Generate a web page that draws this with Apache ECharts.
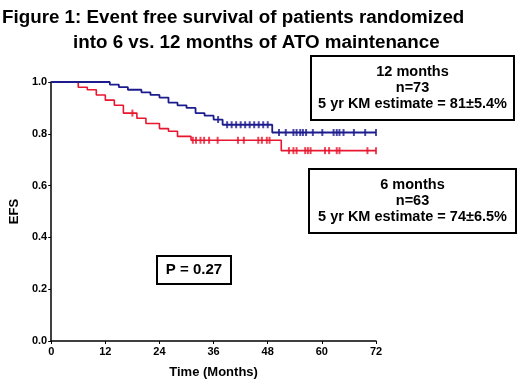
<!DOCTYPE html>
<html>
<head>
<meta charset="utf-8">
<script src="https://cdn.jsdelivr.net/npm/echarts@6/dist/echarts.min.js"></script>
<style>
  html, body { margin: 0; padding: 0; background: #fff; }
  #chart { width: 520px; height: 384px; }
</style>
</head>
<body>
<div id="chart"></div>
<script>
// KM steps: time (months) where survival changes, and survival after the step
const blueTimes = [0, 13, 15, 17, 20, 22, 24, 26, 28, 30, 32, 34, 36, 38, 49];
const blueSurv = [1.0, 0.99, 0.98, 0.97, 0.96, 0.95, 0.94, 0.92, 0.91, 0.9, 0.88, 0.87, 0.855, 0.835, 0.805];
const redTimes = [0, 6, 8, 10, 12, 14, 16, 19, 21, 24, 26, 28, 31, 51];
const redSurv = [1.0, 0.98, 0.97, 0.95, 0.93, 0.91, 0.88, 0.86, 0.84, 0.82, 0.81, 0.79, 0.775, 0.735];
const endTime = 72;

// censored observations (months)
const blueCensor = [37, 39, 40, 41, 42, 43, 44, 45, 46, 47, 48, 50.5, 52, 53.7, 54.4, 55.2, 55.8, 56.5, 58, 60.1, 62.6, 63.3, 63.9, 64.8, 67.1, 69.6, 72];
const redCensor = [18, 31.4, 32.1, 33.1, 33.9, 35, 36.9, 41.4, 42.7, 45.9, 46.7, 47.8, 48.4, 52.7, 53.7, 54.4, 56.3, 56.9, 57.5, 60.7, 61.6, 63.3, 63.9, 70.1, 72];

const xTicks = [0, 12, 24, 36, 48, 60, 72];
const yTicks = [0, 0.2, 0.4, 0.6, 0.8, 1.0];

const BLUE = '#1c1c8f';
const RED = '#e8162e';
const FONT = 'Liberation Sans, Arial, sans-serif';

function stepData(times, surv) {
  const pts = times.map((t, i) => [t, surv[i]]);
  pts.push([endTime, surv[surv.length - 1]]);
  return pts;
}

function survAt(times, surv, t) {
  let s = surv[0];
  times.forEach((tt, i) => {
    if (tt <= t) s = surv[i];
  });
  return s;
}

function censorData(censor, times, surv) {
  return censor.map((t) => [t, survAt(times, surv, t)]);
}

// text box drawn as graphic group
function infoBox(left, top, width, height, lines, fontSize, lineHeight) {
  return {
    type: 'group',
    left: left,
    top: top,
    children: [
      {
        type: 'rect',
        shape: { x: 0, y: 0, width: width, height: height },
        style: { fill: '#fff', stroke: '#000', lineWidth: 2 },
      },
      {
        type: 'text',
        x: width / 2,
        y: height / 2,
        style: {
          text: lines.join('\n'),
          fill: '#000',
          font: 'bold ' + fontSize + 'px ' + FONT,
          lineHeight: lineHeight,
          align: 'center',
          verticalAlign: 'middle',
        },
      },
    ],
  };
}

const chart = echarts.init(document.getElementById('chart'), null, { renderer: 'canvas' });

chart.setOption({
  backgroundColor: '#fff',
  animation: false,
  grid: { left: 37, right: 144, top: 82, bottom: 37, containLabel: false },
  xAxis: {
    type: 'value',
    min: xTicks[0],
    max: xTicks[xTicks.length - 1],
    interval: 12,
    name: 'Time (Months)',
    nameLocation: 'middle',
    nameGap: 25,
    nameTextStyle: { color: '#000', fontFamily: FONT, fontWeight: 'bold', fontSize: 13 },
    axisLine: { show: true, lineStyle: { color: '#000', width: 1.5 } },
    axisTick: { show: true, length: 3, lineStyle: { color: '#000' } },
    axisLabel: { color: '#000', fontFamily: FONT, fontWeight: 'bold', fontSize: 11, margin: 5 },
    splitLine: { show: false },
  },
  yAxis: {
    type: 'value',
    min: yTicks[0],
    max: yTicks[yTicks.length - 1],
    interval: 0.2,
    name: 'EFS',
    nameLocation: 'middle',
    nameGap: 24,
    nameRotate: 90,
    nameTextStyle: { color: '#000', fontFamily: FONT, fontWeight: 'bold', fontSize: 13 },
    axisLine: { show: true, lineStyle: { color: '#000', width: 1.5 } },
    axisTick: { show: true, length: 3, lineStyle: { color: '#000' } },
    axisLabel: {
      color: '#000',
      fontFamily: FONT,
      fontWeight: 'bold',
      fontSize: 11,
      margin: 4,
      formatter: (v) => v.toFixed(1),
    },
    splitLine: { show: false },
  },
  series: [
    {
      name: '6 months',
      type: 'line',
      step: 'end',
      data: stepData(redTimes, redSurv),
      showSymbol: false,
      lineStyle: { color: RED, width: 1.6 },
      z: 2,
    },
    {
      name: '12 months',
      type: 'line',
      step: 'end',
      data: stepData(blueTimes, blueSurv),
      showSymbol: false,
      lineStyle: { color: BLUE, width: 1.8 },
      z: 3,
    },
    {
      type: 'scatter',
      data: censorData(redCensor, redTimes, redSurv),
      symbol: 'rect',
      symbolSize: [2, 7],
      itemStyle: { color: RED },
      z: 4,
    },
    {
      type: 'scatter',
      data: censorData(blueCensor, blueTimes, blueSurv),
      symbol: 'rect',
      symbolSize: [2, 7],
      itemStyle: { color: BLUE },
      z: 5,
    },
  ],
  graphic: [
    {
      type: 'text',
      left: 2,
      top: 8,
      style: {
        text: 'Figure 1: Event free survival of patients randomized',
        fill: '#000',
        font: 'bold 18.8px ' + FONT,
      },
    },
    {
      type: 'text',
      left: 73,
      top: 33,
      style: {
        text: 'into 6 vs. 12 months of ATO maintenance',
        fill: '#000',
        font: 'bold 18.8px ' + FONT,
      },
    },
    infoBox(310, 55, 203, 64, ['12 months', 'n=73', '5 yr KM estimate = 81\u00b15.4%'], 14.5, 16),
    infoBox(308, 168, 207, 64, ['6 months', 'n=63', '5 yr KM estimate = 74\u00b16.5%'], 14.5, 16),
    infoBox(156, 255, 74, 28, ['P = 0.27'], 15, 18),
  ],
});
</script>
</body>
</html>
